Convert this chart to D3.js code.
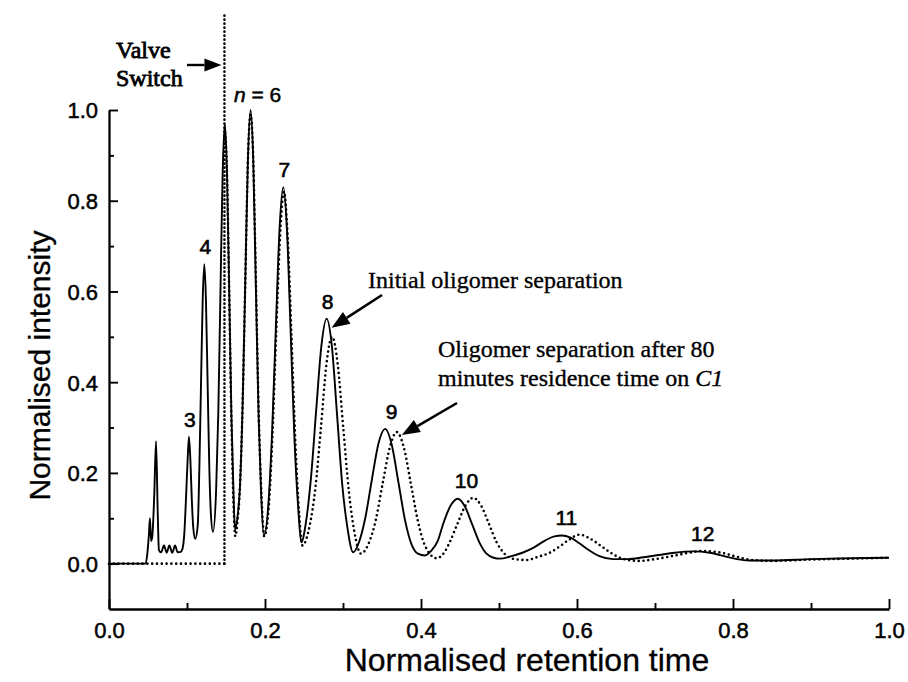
<!DOCTYPE html>
<html>
<head>
<meta charset="utf-8">
<script src="https://cdn.jsdelivr.net/npm/d3@7"></script>
<style>
  body { margin: 0; background: #fff; }
  svg { display: block; }
</style>
</head>
<body>
<svg id="chart" width="908" height="682"></svg>
<script>
// Chromatogram traces: [normalised retention time, normalised intensity]
const initialTrace = [
  [0.000,0.000],[0.047,0.000],[0.049,0.020],[0.051,0.060],[0.0525,0.100],[0.054,0.050],
  [0.0555,0.060],[0.058,0.150],[0.0603,0.270],[0.0625,0.110],[0.064,0.030],[0.0667,0.025],
  [0.0705,0.040],[0.0740,0.024],[0.0773,0.040],[0.0812,0.024],[0.0846,0.040],[0.0881,0.025],
  [0.0920,0.026],[0.0945,0.035],[0.0965,0.065],[0.0985,0.135],[0.1007,0.225],[0.1025,0.280],
  [0.1043,0.230],[0.1062,0.140],[0.1080,0.080],[0.1105,0.055],
  [0.1138,0.085],[0.1159,0.215],[0.1180,0.400],[0.1201,0.580],[0.1222,0.660],[0.1243,0.580],
  [0.1264,0.400],[0.1285,0.220],[0.1306,0.110],[0.1333,0.070],
  [0.1373,0.160],[0.1401,0.330],[0.1429,0.600],[0.1457,0.860],[0.1485,0.970],[0.1513,0.860],
  [0.1541,0.600],[0.1569,0.330],[0.1597,0.150],[0.1615,0.075],
  [0.1645,0.100],[0.1679,0.170],[0.1713,0.350],[0.1747,0.620],[0.1781,0.890],[0.1815,1.000],
  [0.1849,0.890],[0.1883,0.610],[0.1917,0.330],[0.1951,0.150],[0.1985,0.062],
  [0.2043,0.130],[0.2091,0.290],[0.2139,0.520],[0.2187,0.740],[0.2235,0.830],[0.2283,0.730],
  [0.2331,0.500],[0.2379,0.270],[0.2427,0.120],[0.2465,0.047],
  [0.2524,0.090],[0.2590,0.190],[0.2657,0.340],[0.2723,0.480],[0.2790,0.540],[0.2857,0.480],
  [0.2923,0.330],[0.2990,0.175],[0.3056,0.080],[0.3130,0.025],
  [0.3200,0.045],[0.3285,0.100],[0.3370,0.185],[0.3455,0.265],[0.3540,0.297],[0.3625,0.262],
  [0.3710,0.180],[0.3795,0.096],[0.3880,0.042],[0.3960,0.022],[0.4050,0.018],
  [0.4130,0.028],[0.4215,0.050],[0.4285,0.088],[0.4377,0.127],[0.4470,0.143],[0.4563,0.126],
  [0.4655,0.087],[0.4748,0.047],[0.4840,0.022],[0.4930,0.013],[0.5010,0.011],
  [0.515,0.016],[0.530,0.024],[0.545,0.036],[0.560,0.052],[0.571,0.060],[0.581,0.062],
  [0.591,0.058],[0.603,0.045],[0.615,0.030],[0.628,0.017],[0.646,0.010],
  [0.665,0.010],[0.685,0.014],[0.705,0.019],[0.725,0.024],[0.749,0.027],[0.770,0.024],
  [0.790,0.016],[0.805,0.010],[0.820,0.007],[0.850,0.007],[0.900,0.010],[0.950,0.012],
  [1.000,0.013]
];

// After 80 minutes residence time on C1: flat until the valve switch
const residenceBaseline = [[0.000,0.000],[0.148,0.000]];
const residenceTrace = [
  [0.1490,0.950],[0.1513,0.860],[0.1541,0.600],[0.1569,0.320],[0.1597,0.130],[0.1620,0.060],
  [0.1645,0.090],[0.1679,0.170],[0.1713,0.350],[0.1747,0.620],[0.1781,0.890],[0.1815,0.990],
  [0.1850,0.890],[0.1885,0.610],[0.1920,0.330],[0.1955,0.150],[0.1990,0.060],
  [0.2046,0.120],[0.2095,0.280],[0.2144,0.510],[0.2193,0.720],[0.2242,0.820],[0.2291,0.720],
  [0.2340,0.500],[0.2389,0.270],[0.2438,0.110],[0.2480,0.040],
  [0.2540,0.060],[0.2574,0.085],[0.2645,0.165],[0.2717,0.300],[0.2788,0.440],[0.2860,0.500],
  [0.2932,0.440],[0.3003,0.300],[0.3075,0.160],[0.3146,0.070],[0.3230,0.022],
  [0.3330,0.045],[0.3420,0.096],[0.3510,0.178],[0.3600,0.256],[0.3690,0.290],[0.3780,0.256],
  [0.3870,0.176],[0.3960,0.094],[0.4050,0.040],[0.4200,0.012],
  [0.4300,0.025],[0.4370,0.048],[0.4470,0.089],[0.4570,0.128],[0.4670,0.145],[0.4770,0.128],
  [0.4870,0.088],[0.4970,0.047],[0.5070,0.022],[0.5200,0.010],[0.5350,0.008],
  [0.550,0.015],[0.565,0.024],[0.578,0.038],[0.590,0.053],[0.603,0.064],[0.616,0.056],
  [0.630,0.040],[0.645,0.022],[0.660,0.010],[0.680,0.006],
  [0.700,0.010],[0.720,0.016],[0.740,0.023],[0.762,0.028],[0.785,0.024],[0.805,0.015],
  [0.825,0.008],[0.850,0.006],[0.900,0.009],[0.950,0.011],[1.000,0.013]
];

// Valve switch time and the height its marker line reaches
const valveSwitchTime = 0.148;
const valveSwitchTop = 1.21;

// Oligomer peak labels: degree n and the apex they sit above
const peakLabels = [
  { text: "3",  t: 0.1025, v: 0.280 },
  { text: "4",  t: 0.1222, v: 0.660 },
  { text: "7",  t: 0.2235, v: 0.830 },
  { text: "8",  t: 0.2790, v: 0.540 },
  { text: "9",  t: 0.3610, v: 0.297 },
  { text: "10", t: 0.4570, v: 0.145 },
  { text: "11", t: 0.5850, v: 0.064 },
  { text: "12", t: 0.7600, v: 0.028 }
];
const sixthPeak = { t: 0.1815, v: 1.0 };

const xTickValues = [0, 0.1, 0.2, 0.3, 0.4, 0.5, 0.6, 0.7, 0.8, 0.9, 1.0];
const yTickValues = [0, 0.1, 0.2, 0.3, 0.4, 0.5, 0.6, 0.7, 0.8, 0.9, 1.0];

const svg = d3.select("#chart");
const x = d3.scaleLinear().domain([0, 1]).range([109, 889]);
const y = d3.scaleLinear().domain([-0.1, 1.0]).range([609, 110]);

const sans = "'Liberation Sans', Arial, sans-serif";
const serif = "'Liberation Serif', 'Times New Roman', serif";
const isMajor = v => Math.abs(Math.round(v * 10) % 2) === 0;
// heavy print look for the lettering
const inked = (sel, w) => sel.attr("stroke", "#000").attr("stroke-width", w).attr("fill", "#000");

// Axes: ticks point inward, labels on even tenths
const xAxis = d3.axisBottom(x).tickValues(xTickValues)
  .tickSize(0).tickFormat(() => "");
const gx = svg.append("g").attr("transform", `translate(0,${y(-0.1)})`).call(xAxis);
gx.select(".domain").attr("stroke", "#000").attr("stroke-width", 2.3);
gx.selectAll(".tick line")
  .attr("y2", d => isMajor(d) ? -10 : -6)
  .attr("stroke", "#000").attr("stroke-width", 1.9);
gx.selectAll(".tick").filter(d => isMajor(d)).select("text")
  .text(d => d3.format(".1f")(d))
  .attr("y", 13).attr("dy", "0.71em")
  .attr("font-family", sans).attr("font-size", 22)
  .call(inked, 0.5);

const yAxis = d3.axisLeft(y).tickValues(yTickValues)
  .tickSize(0).tickFormat(() => "");
const gy = svg.append("g").attr("transform", `translate(${x(0)},0)`).call(yAxis);
gy.select(".domain").attr("stroke", "#000").attr("stroke-width", 2.3);
gy.selectAll(".tick line")
  .attr("x2", d => isMajor(d) ? 9 : 5)
  .attr("stroke", "#000").attr("stroke-width", 1.9);
gy.selectAll(".tick").filter(d => isMajor(d)).select("text")
  .text(d => d3.format(".1f")(d))
  .attr("x", -11).attr("dy", "0.36em")
  .attr("font-family", sans).attr("font-size", 22)
  .call(inked, 0.5);

// Axis titles
svg.append("text")
  .attr("x", 527).attr("y", 671)
  .attr("text-anchor", "middle")
  .attr("font-family", sans).attr("font-size", 32)
  .call(inked, 0.3)
  .text("Normalised retention time");
svg.append("text")
  .attr("transform", `translate(50,${(y(-0.1) + y(1.0)) / 2 + 6}) rotate(-90)`)
  .attr("text-anchor", "middle")
  .attr("font-family", sans).attr("font-size", 30)
  .call(inked, 0.3)
  .text("Normalised intensity");

// Traces
const line = d3.line().x(d => x(d[0])).y(d => y(d[1])).curve(d3.curveMonotoneX);
const dotted = sel => sel.attr("fill", "none").attr("stroke", "#000")
  .attr("stroke-width", 2.6).attr("stroke-linecap", "round")
  .attr("stroke-dasharray", "0 4.8");

svg.append("path").datum(residenceBaseline).attr("d", line).call(dotted);
svg.append("path")
  .datum([[valveSwitchTime, 0], [valveSwitchTime, valveSwitchTop]])
  .attr("d", d3.line().x(d => x(d[0])).y(d => y(d[1])))
  .call(dotted).attr("stroke-dasharray", "0 4");
svg.append("path").datum(residenceTrace).attr("d", line).call(dotted);
svg.append("path").datum(initialTrace).attr("d", line)
  .attr("fill", "none").attr("stroke", "#000").attr("stroke-width", 1.9)
  .attr("stroke-linejoin", "round");

// Peak labels
svg.append("g").selectAll("text").data(peakLabels).join("text")
  .attr("x", d => x(d.t) + 1)
  .attr("y", d => y(d.v) - 10)
  .attr("text-anchor", "middle")
  .attr("font-family", sans).attr("font-size", 21)
  .call(inked, 0.6)
  .text(d => d.text);

const nLabel = svg.append("text")
  .attr("x", x(sixthPeak.t) + 7).attr("y", y(sixthPeak.v) - 8)
  .attr("text-anchor", "middle")
  .attr("font-family", sans).attr("font-size", 21)
  .call(inked, 0.5);
nLabel.append("tspan").attr("font-style", "italic").text("n");
nLabel.append("tspan").text(" = 6");

// Arrows
function arrow(x1, y1, x2, y2, len, half, width) {
  const a = Math.atan2(y2 - y1, x2 - x1);
  const bx = x2 - len * Math.cos(a), by = y2 - len * Math.sin(a);
  svg.append("line").attr("x1", x1).attr("y1", y1).attr("x2", bx).attr("y2", by)
    .attr("stroke", "#000").attr("stroke-width", width);
  const px = -Math.sin(a) * half, py = Math.cos(a) * half;
  svg.append("polygon")
    .attr("points", [[x2, y2], [bx + px, by + py], [bx - px, by - py]].map(p => p.join(",")).join(" "))
    .attr("fill", "#000");
}

// Valve switch note
const valveNote = svg.append("text")
  .attr("font-family", serif).attr("font-size", 24)
  .call(inked, 0.8);
valveNote.append("tspan").attr("x", 116).attr("y", 58).text("Valve");
valveNote.append("tspan").attr("x", 116).attr("y", 86).text("Switch");
arrow(187, 65, x(valveSwitchTime) - 3, 65, 17, 6.5, 2.4);

// Separation notes
svg.append("text")
  .attr("x", 368).attr("y", 288)
  .attr("font-family", serif).attr("font-size", 24)
  .call(inked, 0.35)
  .text("Initial oligomer separation");
arrow(382, 295, x(0.279) + 5, y(0.54) + 9, 18, 7, 2.6);

const laterNote = svg.append("text").attr("font-family", serif).attr("font-size", 24)
  .call(inked, 0.35);
laterNote.append("tspan").attr("x", 438).attr("y", 357).text("Oligomer separation after 80");
const line2 = laterNote.append("tspan").attr("x", 438).attr("y", 386);
line2.append("tspan").text("minutes residence time on ");
line2.append("tspan").attr("font-style", "italic").text("C1");
arrow(457, 403, x(0.369) + 5, y(0.29) + 3, 18, 7, 2.6);
</script>
</body>
</html>
